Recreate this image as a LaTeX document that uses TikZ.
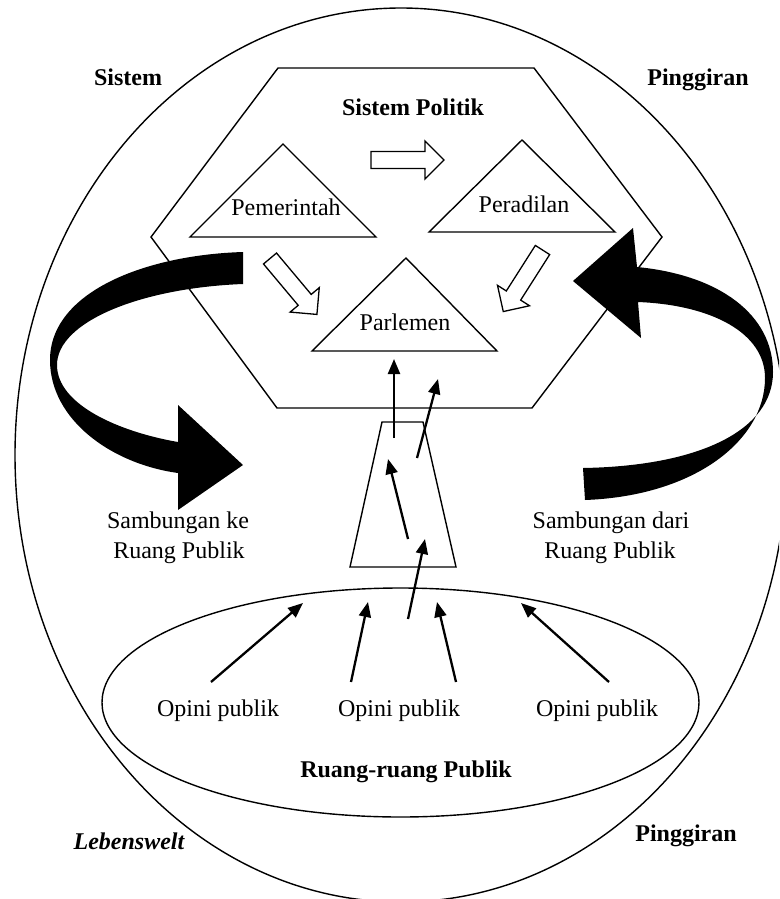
\documentclass[tikz,border=0pt]{standalone}
\usepackage{fontspec}
\setmainfont{Liberation Serif}
\usetikzlibrary{arrows.meta}

% hollow block arrow: tail centre (#1,#2), turned by #3 degrees
\newcommand\hollowarrow[3]{%
  \draw[hollow, shift={(#1,#2)}, rotate=#3]
    (0,-8.5) -- (54,-8.5) -- (54,-19) -- (73,0) -- (54,19) -- (54,8.5) -- (0,8.5) -- cycle;}

\begin{document}
\begin{tikzpicture}[x=1pt,y=-1pt,
  shapeline/.style={line width=1.4pt, line join=miter},
  txt/.style={font=\fontsize{24}{28}\selectfont, inner sep=0pt, anchor=base},
  boldtxt/.style={txt, font=\fontsize{24}{28}\selectfont\bfseries},
  thinarrow/.style={line width=2.3pt, -{Triangle[length=15pt,width=12pt]}},
  hollow/.style={line width=1.3pt, fill=white, line join=miter},
  ribbon/.style={fill=black, draw=none}]

\useasboundingbox (0,0) rectangle (779,899);

% outer world (Lebenswelt)
\begin{scope}
  \clip (0,0) rectangle (779,899);
  \draw[shapeline] (401,455) ellipse [x radius=386, y radius=447];
\end{scope}

% political system hexagon
\draw[shapeline] (278,68) -- (534,68) -- (662,237) -- (532,408) -- (277,408) -- (151,237) -- cycle;

% the three branches
\draw[shapeline] (283,144) -- (376,237) -- (190,237) -- cycle;
\draw[shapeline] (522,140) -- (615,232) -- (429,232) -- cycle;
\draw[shapeline] (406,258) -- (497,351) -- (312,351) -- cycle;

% funnel towards parliament
\draw[shapeline] (382,422) -- (423,422) -- (456,567) -- (350,567) -- cycle;

% public spheres
\draw[shapeline] (400.5,702.5) ellipse [x radius=298.5, y radius=114.5];

% hollow arrows between branches
\hollowarrow{371}{160}{0}
\hollowarrow{270}{258.5}{-50}
\hollowarrow{542.5}{250}{-122.5}

% black ribbon arrow: to the public sphere
\fill[ribbon] (243,252) .. controls (145,255) and (50,292) .. (50,360)
  .. controls (50,420) and (112,464) .. (178,473)
  -- (178,510) -- (243,465) -- (178,405) -- (178,442)
  .. controls (120,432) and (57,405) .. (57,365)
  .. controls (57,322) and (140,288) .. (243,284) -- cycle;

% black ribbon arrow: from the public sphere
\fill[ribbon] (637,267) .. controls (720,275) and (773,315) .. (773,372)
  .. controls (773,430) and (700,466) .. (583,468)
  -- (585,500)
  .. controls (695,496) and (765,440) .. (765,378)
  .. controls (765,333) and (712,305) .. (638,302)
  -- (641,338) -- (573,281) -- (633,228) -- cycle;

% labels
\node[boldtxt] (sistem) at (128,85) {Sistem};
\node[boldtxt] (pinggiranA) at (698,85) {Pinggiran};
\node[boldtxt] (politik) at (413,115) {Sistem Politik};
\node[txt] (pemerintah) at (286,215) {Pemerintah};
\node[txt] (peradilan) at (524,212) {Peradilan};
\node[txt] (parlemen) at (405,330) {Parlemen};
\node[txt] (keA) at (178,528) {Sambungan ke};
\node[txt] (keB) at (179,558) {Ruang Publik};
\node[txt] (dariA) at (611,528) {Sambungan dari};
\node[txt] (dariB) at (610,558) {Ruang Publik};
\node[txt] (op1) at (218,716) {Opini publik};
\node[txt] (op2) at (399,716) {Opini publik};
\node[txt] (op3) at (597,716) {Opini publik};
\node[boldtxt] (ruang) at (406,777) {Ruang-ruang Publik};
\node[txt, font=\fontsize{24}{28}\selectfont\bfseries\itshape] (lebenswelt) at (129,849) {Lebenswelt};
\node[boldtxt] (pinggiranB) at (686,841) {Pinggiran};

% arrow end points
\coordinate (o1s) at (211,682);  \coordinate (o1e) at (303,603);
\coordinate (o2s) at (351,682);  \coordinate (o2e) at (368,602);
\coordinate (o3s) at (456,682);  \coordinate (o3e) at (437,602);
\coordinate (o4s) at (609,682);  \coordinate (o4e) at (521,603);
\coordinate (f1s) at (408,619);  \coordinate (f1e) at (425,539);
\coordinate (f2s) at (408,539);  \coordinate (f2e) at (388,459);
\coordinate (f3s) at (417,458);  \coordinate (f3e) at (438,379);
\coordinate (f4s) at (394,438);  \coordinate (f4e) at (394,359);

% flows of public opinion
\foreach \a in {o1,o2,o3,o4,f1,f2,f3,f4}
  \draw[thinarrow] (\a s) -- (\a e);

\end{tikzpicture}
\end{document}
